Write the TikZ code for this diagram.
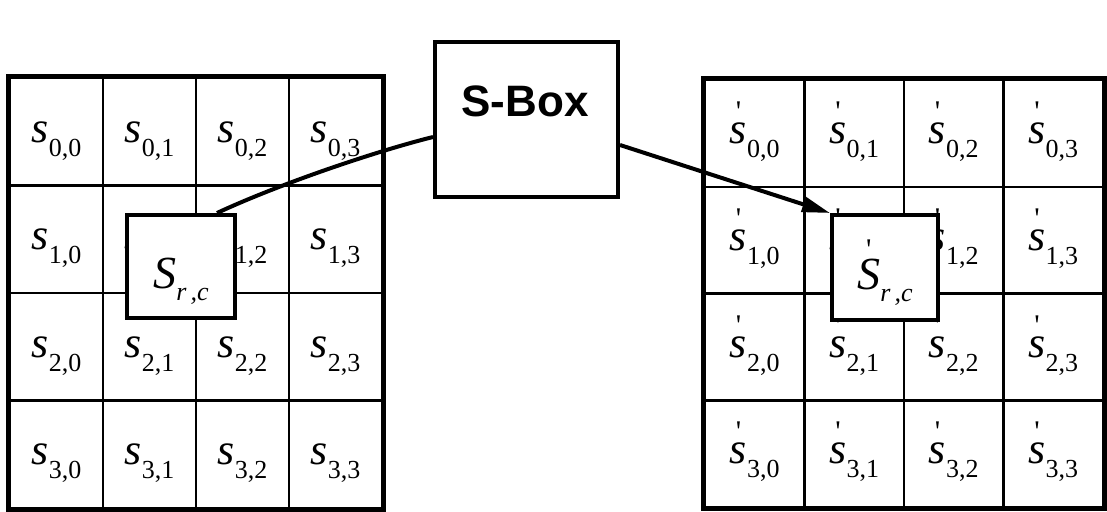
\documentclass[tikz,border=0pt]{standalone}
\usepackage{fontspec}
\setmainfont{Liberation Serif}
\newfontfamily\boxfont{Liberation Sans}
\usetikzlibrary{arrows.meta}
\newcommand{\subsz}{\fontsize{26}{26}\selectfont}
\newcommand{\tick}[1]{\smash{\raisebox{#1}{\fontsize{30}{30}\selectfont\textquotesingle}}}
\newcommand{\sv}[2]{\textit{s}\raisebox{-14pt}{\subsz #1,#2}}
\newcommand{\spv}[2]{\ooalign{\textit{s}\cr\hidewidth\tick{22pt}\hidewidth\cr}\raisebox{-14pt}{\subsz #1,#2}}
\begin{document}
\begin{tikzpicture}[x=1pt,y=-1pt,
  cellbase/.style={draw, line width=2.5pt, inner sep=0pt, text height=40pt, text depth=19.5pt, font=\fontsize{44}{48}\selectfont},
  cellL/.style={cellbase, minimum width=93pt, minimum height=107.5pt},
  cellR/.style={cellbase, minimum width=99.5pt, minimum height=106.75pt},
  outer/.style={draw, line width=5pt},
  bigbox/.style={draw, line width=4pt, fill=white, inner sep=0pt},
  smallbox/.style={draw, line width=4pt, fill=white, inner sep=0pt, text height=60pt, text depth=17pt, font=\fontsize{46}{50}\selectfont},
  conn/.style={draw, line width=4pt}
]
\useasboundingbox (0,0) rectangle (1107,511);
% left grid
\foreach \r in {0,...,3}{\foreach \c in {0,...,3}{
  \node[cellL] (L\r\c) at ({10+93*(\c+0.5)},{78+107.5*(\r+0.5)}) {\sv{\r}{\c}};
}}
\draw[outer] (L00.north west) rectangle (L33.south east);
% right grid
\foreach \r in {0,...,3}{\foreach \c in {0,...,3}{
  \node[cellR] (R\r\c) at ({705+99.5*(\c+0.5)},{80+106.75*(\r+0.5)}) {\spv{\r}{\c}};
}}
\draw[outer] (R00.north west) rectangle (R33.south east);
% S-Box
\node[bigbox, minimum width=183pt, minimum height=155pt] (sbox) at (526.5,119.5) {};
\node[font=\boxfont\bfseries\fontsize{44}{50}\selectfont, inner sep=0pt] (sboxtext) at (525,101) {S-Box};
% small boxes
\node[smallbox, minimum width=108pt, minimum height=103pt] (src) at (181,266.5) {\textit{S}\raisebox{-12pt}{\subsz\textit{r\,,c}}};
\node[smallbox, minimum width=106pt, minimum height=105pt] (rsrc) at (885,267.5) {\ooalign{\textit{S}\cr\hidewidth\tick{30pt}\hidewidth\cr}\raisebox{-12pt}{\subsz\textit{r\,,c}}};
% connectors
\draw[conn] ([xshift=-20pt]src.north east) .. controls +(60,-28) and +(-60,15) .. ([yshift=-17.5pt]sbox.west);
\draw[conn, -{Triangle[length=28pt,width=15pt]}] ([yshift=-25.5pt]sbox.east) -- (rsrc.north west);
\end{tikzpicture}
\end{document}
